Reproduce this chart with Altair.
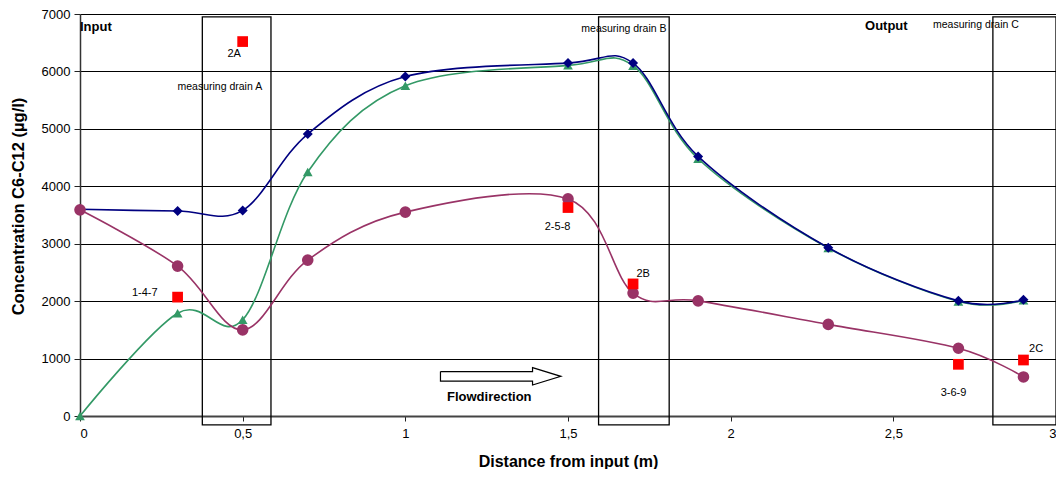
import altair as alt
import pandas as pd

# ---- data ----
x_pos = [0, 0.3, 0.5, 0.7, 1.0, 1.5, 1.7, 1.9, 2.3, 2.7, 2.9]
blue_vals = [3600, 3570, 3580, 4910, 5910, 6145, 6145, 4520, 2930, 2005, 2025]
green_vals = [0, 1790, 1675, 4250, 5750, 6105, 6100, 4480, 2925, 1995, 2015]
purple_vals = [3590, 2610, 1500, 2715, 3550, 3780, 2140, 2005, 1595, 1180, 680]

red_x = [0.3, 0.5, 1.5, 1.7, 2.7, 2.9]
red_y = [2070, 6520, 3630, 2300, 900, 975]
red_labels = ["1-4-7", "2A", "2-5-8", "2B", "3-6-9", "2C"]
red_label_x = [0.199, 0.474, 1.468, 1.731, 2.685, 2.939]
red_label_y = [2142, 6303, 3291, 2473, 400, 1167]

drain_x1 = [0.376, 1.594, 2.806]
drain_x2 = [0.587, 1.811, 3.0]
drain_y1 = [-155, -155, -155]
drain_y2 = [6950, 6950, 6950]

bold_notes = ["Input", "Output"]
bold_note_x = [0.0, 2.413]
bold_note_y = [6773, 6796]

plain_notes = ["measuring drain A", "measuring drain B", "measuring drain C"]
plain_note_x = [0.2997, 1.541, 2.622]
plain_note_y = [5729, 6733, 6803]

flow_text = ["Flowdirection"]
flow_x = [1.258]
flow_y = [325]

arrow_x = [1.108, 1.391, 1.391, 1.478, 1.391, 1.391, 1.108, 1.108]
arrow_y = [773, 773, 842, 691, 540, 609, 609, 773]

x_ticks = [0, 0.5, 1, 1.5, 2, 2.5, 3]
y_ticks = [0, 1000, 2000, 3000, 4000, 5000, 6000, 7000]

FONT = "Liberation Sans"

x_scale = alt.Scale(domain=[0, 3], nice=False, zero=False)
y_scale = alt.Scale(domain=[0, 7000], nice=False)

x_axis = alt.Axis(
    values=x_ticks, grid=False, title="Distance from input (m)",
    labelExpr="replace(toString(datum.value), '.', ',')",
    labelFontSize=13, labelFont=FONT, labelColor="black", labelPadding=6,
    titleFontSize=16, titleFont=FONT, titleFontWeight="bold", titleColor="black",
    titleY=53, titleBaseline="bottom",
    domainColor="#444444", domainWidth=2, tickColor="#222222", tickSize=5,
)
y_axis = alt.Axis(
    values=y_ticks, grid=True, gridColor="black", gridWidth=1, format="d",
    title="Concentration C6-C12 (µg/l)",
    labelFontSize=13, labelFont=FONT, labelColor="black", labelPadding=4,
    titleFontSize=16.5, titleFont=FONT, titleFontWeight="bold", titleColor="black",
    titleX=-62, titleY=192, titleAngle=-90, titleAlign="center", titleBaseline="middle",
    domainColor="#333333", domainWidth=1.5, tickColor="#222222", tickSize=6,
)

X = lambda f: alt.X(f, type="quantitative", scale=x_scale, axis=x_axis)
Y = lambda f: alt.Y(f, type="quantitative", scale=y_scale, axis=y_axis)

series_df = pd.DataFrame({"x": x_pos, "blue": blue_vals, "green": green_vals, "purple": purple_vals})

def series_layers(col, color, shape, size):
    line = alt.Chart(series_df).mark_line(
        interpolate="cardinal", color=color, strokeWidth=1.6, clip=False
    ).encode(x=X("x"), y=Y(col))
    pts = alt.Chart(series_df).mark_point(
        shape=shape, filled=True, color=color, size=size, opacity=1, clip=False
    ).encode(x=X("x"), y=Y(col))
    return [line, pts]

green = series_layers("green", "#339966", "triangle-up", 95)
blue = series_layers("blue", "#000080", "diamond", 100)
purple = series_layers("purple", "#993366", "circle", 135)

red_df = pd.DataFrame({"x": red_x, "y": red_y, "label": red_labels,
                       "lx": red_label_x, "ly": red_label_y})
red_pts = alt.Chart(red_df).mark_point(
    shape="square", filled=True, color="#FF0000", size=115, opacity=1, clip=False
).encode(x=X("x"), y=Y("y"))
red_txt = alt.Chart(red_df).mark_text(
    font=FONT, fontSize=11, color="black", align="center", baseline="middle"
).encode(x=X("lx"), y=Y("ly"), text="label:N")

drain_df = pd.DataFrame({"x1": drain_x1, "x2": drain_x2, "y1": drain_y1, "y2": drain_y2})
drains = alt.Chart(drain_df).mark_rect(
    fill=None, stroke="black", strokeWidth=1.3, clip=False
).encode(x=X("x1"), x2="x2:Q", y=Y("y1"), y2="y2:Q")

bold_df = pd.DataFrame({"t": bold_notes, "x": bold_note_x, "y": bold_note_y})
bold_txt = alt.Chart(bold_df).mark_text(
    font=FONT, fontSize=13, fontWeight="bold", color="black", align="left", baseline="middle"
).encode(x=X("x"), y=Y("y"), text="t:N")

plain_df = pd.DataFrame({"t": plain_notes, "x": plain_note_x, "y": plain_note_y})
plain_txt = alt.Chart(plain_df).mark_text(
    font=FONT, fontSize=10.5, color="black", align="left", baseline="middle"
).encode(x=X("x"), y=Y("y"), text="t:N")

flow_df = pd.DataFrame({"t": flow_text, "x": flow_x, "y": flow_y})
flow_txt = alt.Chart(flow_df).mark_text(
    font=FONT, fontSize=13, fontWeight="bold", color="black", align="center", baseline="middle"
).encode(x=X("x"), y=Y("y"), text="t:N")

arrow_df = pd.DataFrame({"i": list(range(len(arrow_x))), "x": arrow_x, "y": arrow_y})
arrow = alt.Chart(arrow_df).mark_line(color="black", strokeWidth=1.2, clip=False).encode(
    x=X("x"), y=Y("y"), order="i:Q"
)

chart = alt.layer(
    drains, *green, *blue, *purple, red_pts, red_txt,
    bold_txt, plain_txt, flow_txt, arrow
).properties(
    width=976, height=402,
    autosize=alt.AutoSizeParams(type="none"),
    padding={"left": 72, "top": 6, "right": 0, "bottom": 53},
).configure_view(stroke=None)

chart.save("out.html", embed_options={"renderer": "svg", "actions": False})
